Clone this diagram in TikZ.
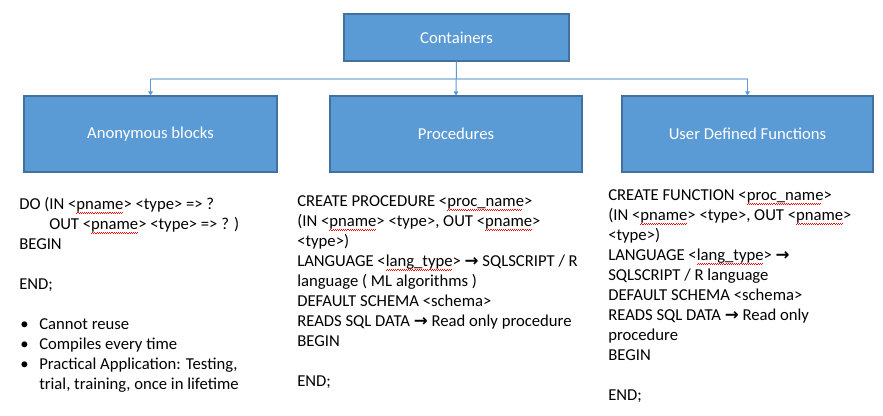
\documentclass[tikz,border=0pt]{standalone}
\usepackage{fontspec}
\setmainfont{Carlito}
\newfontfamily\arrfont{DejaVu Sans}
\usetikzlibrary{arrows.meta}
\definecolor{boxfill}{HTML}{5B9BD5}
\definecolor{boxline}{HTML}{41719C}
\definecolor{busline}{HTML}{A9C8E8}
\newsavebox\sqbox
\newcommand\sq[1]{\sbox\sqbox{#1}\rlap{\textcolor{red}{\leaders\hbox{\rule[-3.3pt]{0.8pt}{0.35pt}\rule[-2.5pt]{0.8pt}{0.35pt}}\hskip\wd\sqbox}}\usebox\sqbox}
\newcommand\arr{{\arrfont\bfseries →}}
\tikzset{
  box/.style={draw=boxline, line width=0.8pt, fill=boxfill, text=white,
    font=\fontsize{12.5}{15}\selectfont},
  txt/.style={anchor=base west, inner sep=0pt, font=\fontsize{12.5}{15}\selectfont},
  conn/.style={draw=boxfill, line width=0.75pt, -{Triangle[width=3.5pt,length=3pt]}},
  busstyle/.style={draw=busline, line width=1.5pt},
}
\begin{document}
\begin{tikzpicture}[x=0.75pt, y=-0.75pt]
\useasboundingbox (0,0) rectangle (883,415);
% boxes
\node[box, minimum width=225*0.75pt, minimum height=47*0.75pt] (cont) at (456.5,37.5) {Containers};
\node[box, minimum width=253*0.75pt, minimum height=76*0.75pt] (anon) at (150.5,134) {Anonymous blocks};
\node[box, minimum width=252*0.75pt, minimum height=76*0.75pt] (proc) at (456,134) {Procedures};
\node[box, minimum width=251*0.75pt, minimum height=76*0.75pt] (udf) at (747.5,134) {User Defined Functions};
% connectors
\coordinate (bus) at (456,79);
\draw[busstyle] (anon.north |- bus) -- (udf.north |- bus);
\draw[conn] (cont.south) -- (proc.north);
\draw[conn] (anon.north |- bus) -- (anon.north);
\draw[conn] (udf.north |- bus) -- (udf.north);
% left text
\node[txt] (a1) at (19,209) {DO (IN <\sq{pname}> <type> => ?};
\node[txt] (a2) at (49,229) {OUT <\sq{pname}> <type> => ? )};
\node[txt] (a3) at (19,249) {BEGIN};
\node[txt] (a4) at (19,289) {END;};
\node[txt] (b1) at (20,329) {•};
\node[txt] (b1t) at (39,329) {Cannot reuse};
\node[txt] (b2) at (20,349) {•};
\node[txt] (b2t) at (39,349) {Compiles every time};
\node[txt] (b3) at (20,369) {•};
\node[txt] (b3t) at (39,369) {Practical Application: Testing,};
\node[txt] (b4t) at (39,389) {trial, training, once in lifetime};
% middle text
\node[txt] (p1) at (297,206) {CREATE PROCEDURE <\sq{proc\_name}>};
\node[txt] (p2) at (297,226) {(IN <\sq{pname}> <type>, OUT <\sq{pname}>};
\node[txt] (p3) at (297,246) {<type>)};
\node[txt] (p4) at (297,266) {LANGUAGE <\sq{lang\_type}> \arr{} SQLSCRIPT / R};
\node[txt] (p5) at (297,286) {language ( ML algorithms )};
\node[txt] (p6) at (297,306) {DEFAULT SCHEMA <schema>};
\node[txt] (p7) at (297,326) {READS SQL DATA \arr{} Read only procedure};
\node[txt] (p8) at (297,346) {BEGIN};
\node[txt] (p9) at (297,386) {END;};
% right text
\node[txt] (f1) at (608,200) {CREATE FUNCTION <\sq{proc\_name}>};
\node[txt] (f2) at (608,220) {(IN <\sq{pname}> <type>, OUT <\sq{pname}>};
\node[txt] (f3) at (608,240) {<type>)};
\node[txt] (f4) at (608,260) {LANGUAGE <\sq{lang\_type}> \arr};
\node[txt] (f5) at (608,280) {SQLSCRIPT / R language};
\node[txt] (f6) at (608,300) {DEFAULT SCHEMA <schema>};
\node[txt] (f7) at (608,320) {READS SQL DATA \arr{} Read only};
\node[txt] (f8) at (608,340) {procedure};
\node[txt] (f9) at (608,360) {BEGIN};
\node[txt] (f10) at (608,400) {END;};
\end{tikzpicture}
\end{document}
